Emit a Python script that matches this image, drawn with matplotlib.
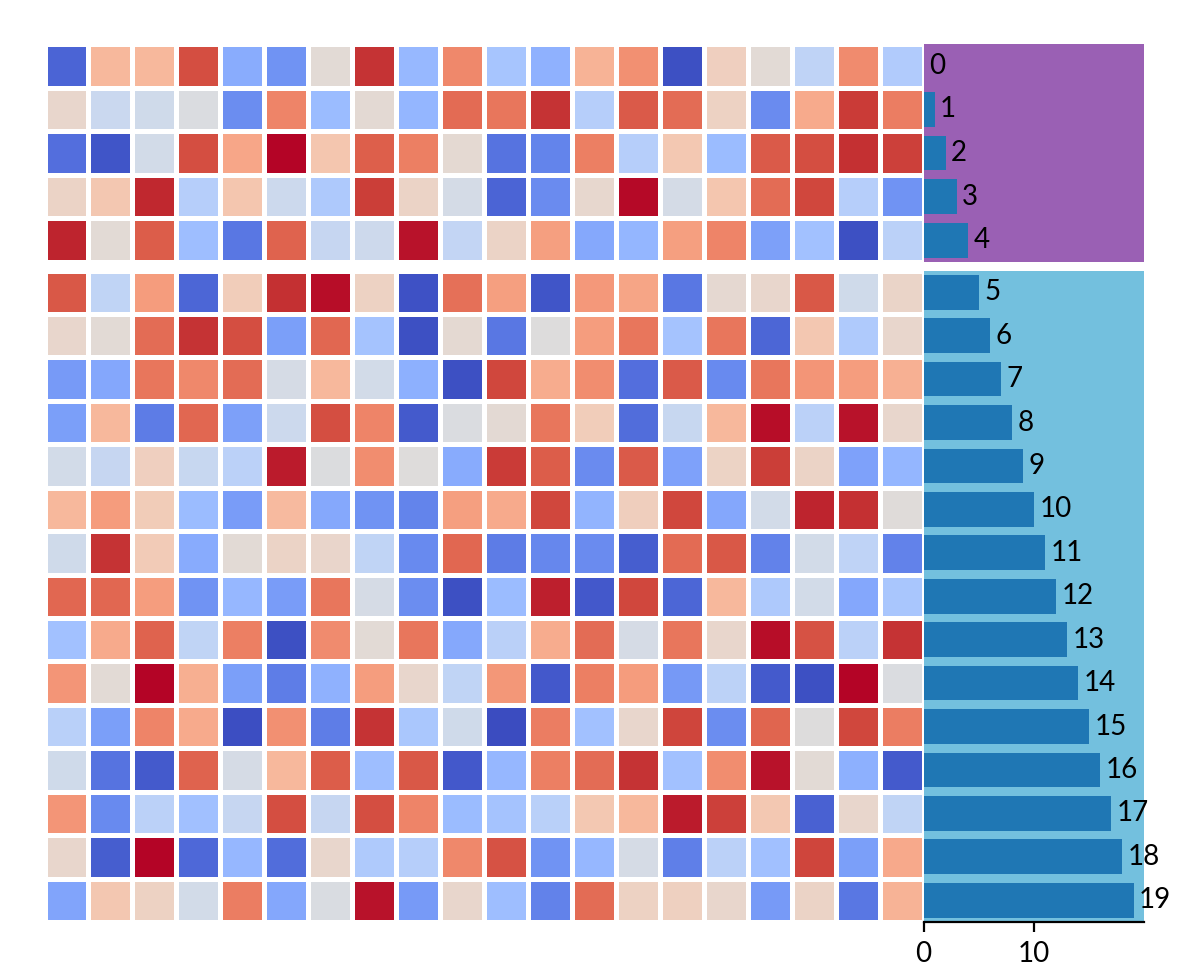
import matplotlib
matplotlib.use("Agg")
import matplotlib.pyplot as plt
import numpy as np

plt.rcParams['font.family'] = ['Lato', 'DejaVu Sans']
plt.rcParams['font.size'] = 10

# heatmap values (0..1 on the coolwarm scale), one list per row
heat_values = [
    [0.055, 0.665, 0.665, 0.91, 0.24, 0.17, 0.52, 0.95, 0.28, 0.79, 0.325, 0.255, 0.68, 0.77, 0.01, 0.58, 0.52, 0.395, 0.785, 0.355],
    [0.545, 0.43, 0.45, 0.49, 0.155, 0.80, 0.29, 0.525, 0.27, 0.855, 0.83, 0.95, 0.37, 0.885, 0.85, 0.57, 0.15, 0.705, 0.94, 0.815],
    [0.08, 0.02, 0.46, 0.91, 0.715, 1.0, 0.62, 0.875, 0.81, 0.53, 0.09, 0.13, 0.81, 0.37, 0.61, 0.29, 0.885, 0.91, 0.955, 0.93],
    [0.56, 0.615, 0.965, 0.37, 0.62, 0.44, 0.345, 0.935, 0.56, 0.465, 0.055, 0.15, 0.54, 0.995, 0.465, 0.62, 0.85, 0.92, 0.37, 0.17],
    [0.97, 0.52, 0.88, 0.30, 0.10, 0.87, 0.42, 0.445, 0.985, 0.41, 0.56, 0.735, 0.23, 0.27, 0.735, 0.80, 0.205, 0.31, 0.01, 0.385],
    [0.89, 0.40, 0.745, 0.06, 0.59, 0.955, 0.99, 0.57, 0.015, 0.84, 0.735, 0.02, 0.75, 0.72, 0.10, 0.535, 0.545, 0.89, 0.45, 0.555],
    [0.545, 0.52, 0.85, 0.95, 0.91, 0.20, 0.86, 0.32, 0.01, 0.53, 0.10, 0.50, 0.74, 0.83, 0.32, 0.83, 0.06, 0.615, 0.35, 0.545],
    [0.19, 0.225, 0.83, 0.79, 0.85, 0.47, 0.665, 0.46, 0.25, 0.01, 0.92, 0.70, 0.78, 0.08, 0.885, 0.145, 0.83, 0.76, 0.74, 0.69],
    [0.20, 0.665, 0.11, 0.86, 0.205, 0.44, 0.91, 0.80, 0.035, 0.49, 0.525, 0.83, 0.59, 0.075, 0.425, 0.665, 0.99, 0.385, 0.985, 0.545],
    [0.46, 0.42, 0.58, 0.425, 0.385, 0.98, 0.495, 0.78, 0.505, 0.235, 0.94, 0.88, 0.15, 0.885, 0.21, 0.565, 0.935, 0.56, 0.21, 0.27],
    [0.665, 0.745, 0.595, 0.29, 0.195, 0.66, 0.23, 0.17, 0.13, 0.735, 0.705, 0.92, 0.265, 0.585, 0.92, 0.225, 0.46, 0.97, 0.955, 0.51],
    [0.45, 0.95, 0.60, 0.235, 0.52, 0.56, 0.55, 0.40, 0.145, 0.86, 0.11, 0.14, 0.15, 0.04, 0.855, 0.89, 0.125, 0.46, 0.395, 0.125],
    [0.86, 0.86, 0.74, 0.17, 0.275, 0.195, 0.83, 0.47, 0.155, 0.01, 0.29, 0.975, 0.03, 0.92, 0.06, 0.665, 0.345, 0.46, 0.225, 0.33],
    [0.31, 0.705, 0.87, 0.40, 0.81, 0.01, 0.785, 0.52, 0.83, 0.23, 0.38, 0.70, 0.85, 0.47, 0.83, 0.545, 0.99, 0.90, 0.385, 0.95],
    [0.76, 0.52, 1.0, 0.695, 0.20, 0.115, 0.255, 0.74, 0.545, 0.40, 0.755, 0.03, 0.81, 0.745, 0.185, 0.39, 0.035, 0.01, 1.0, 0.49],
    [0.375, 0.20, 0.80, 0.705, 0.005, 0.77, 0.115, 0.95, 0.335, 0.45, 0.0, 0.815, 0.31, 0.545, 0.925, 0.155, 0.865, 0.50, 0.92, 0.815],
    [0.45, 0.09, 0.035, 0.87, 0.47, 0.665, 0.88, 0.30, 0.89, 0.03, 0.275, 0.81, 0.85, 0.95, 0.31, 0.78, 0.985, 0.52, 0.25, 0.035],
    [0.76, 0.145, 0.385, 0.305, 0.42, 0.91, 0.42, 0.91, 0.80, 0.29, 0.32, 0.375, 0.61, 0.665, 0.98, 0.93, 0.61, 0.05, 0.545, 0.40],
    [0.545, 0.04, 1.0, 0.065, 0.275, 0.075, 0.545, 0.35, 0.37, 0.79, 0.90, 0.17, 0.275, 0.47, 0.12, 0.385, 0.305, 0.925, 0.20, 0.71],
    [0.215, 0.615, 0.57, 0.46, 0.815, 0.225, 0.485, 0.985, 0.19, 0.545, 0.30, 0.125, 0.85, 0.57, 0.575, 0.545, 0.19, 0.56, 0.10, 0.68],
]

bar_values = [0, 1, 2, 3, 4, 5, 6, 7, 8, 9, 10, 11, 12, 13, 14, 15, 16, 17, 18, 19]

# row groups and their background colours
groups = [(0, 5), (5, 20)]
group_colors = ['#9a60b4', '#73c0de']

W, H = 1188, 968
fig = plt.figure(figsize=(5.94, 4.84), dpi=200)


def px_axes(x0, y0, x1, y1):
    # axes from pixel box (top-left origin)
    return fig.add_axes([x0 / W, 1 - y1 / H, (x1 - x0) / W, (y1 - y0) / H])


heat = np.array(heat_values)
group_px = [(44, 262), (270.5, 922)]
heat_left, heat_right, bar_right = 44.5, 923.5, 1144

bar_axes = []
for (r0, r1), (y0, y1), col in zip(groups, group_px, group_colors):
    n = r1 - r0
    ax = px_axes(heat_left, y0, heat_right, y1)
    ax.pcolormesh(np.arange(21), np.arange(n + 1), heat[r0:r1],
                  cmap='coolwarm', vmin=0, vmax=1,
                  edgecolors='white', linewidth=1.8)
    ax.set_xlim(0, 20)
    ax.set_ylim(n, 0)
    ax.set_axis_off()

    bx = px_axes(heat_right, y0, bar_right, y1)
    bx.set_facecolor(col)
    vals = bar_values[r0:r1]
    bars = bx.barh(np.arange(n) + 0.5, vals, height=0.8, color='#1f77b4')
    bx.bar_label(bars, padding=2, fontsize=10)
    bx.set_xlim(0, 19.95)
    bx.set_ylim(n, 0)
    for s in bx.spines.values():
        s.set_visible(False)
    bx.set_yticks([])
    bx.set_xticks([])
    bar_axes.append(bx)

last = bar_axes[-1]
last.spines['bottom'].set_visible(True)
last.set_xticks([0, 10])

fig.savefig('out.png', dpi=200)
